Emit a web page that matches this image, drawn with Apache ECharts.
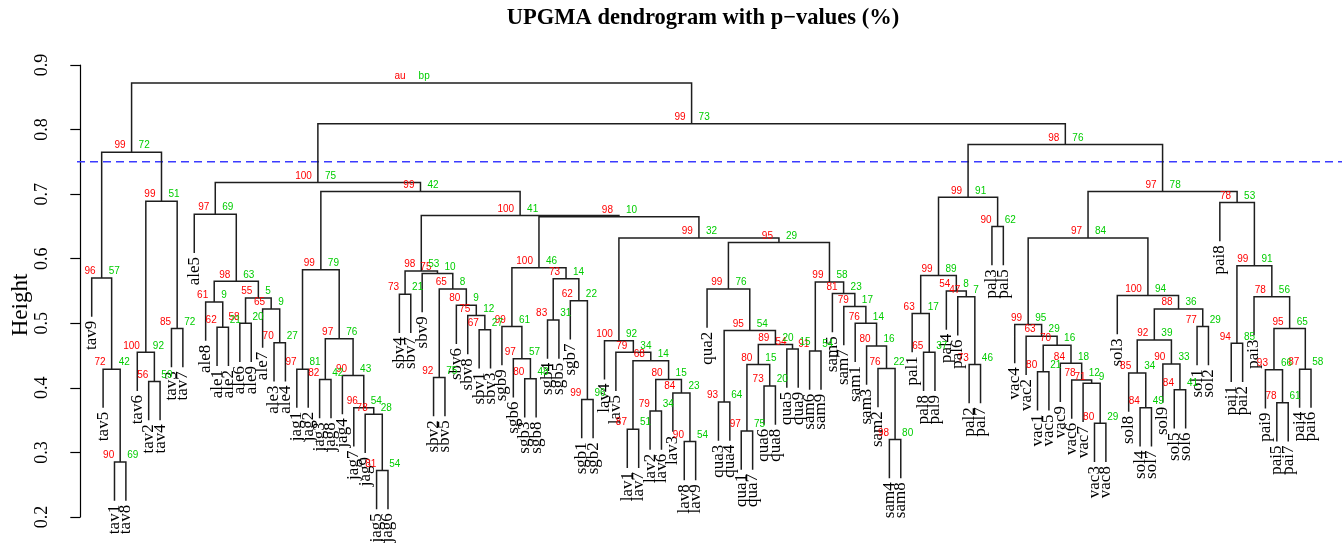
<!DOCTYPE html>
<html>
<head>
<meta charset="utf-8">
<title>UPGMA dendrogram with p-values</title>
<script src="https://cdn.jsdelivr.net/npm/echarts@6/dist/echarts.min.js"></script>
<style>
  html, body { margin: 0; padding: 0; background: #fff; }
  #chart { width: 1342px; height: 547px; }
</style>
</head>
<body>
<div id="chart"></div>
<script>
// Leaves in dendrogram order (left to right)
const leafLabels = [
  'tav9','tav5','tav1','tav8','tav6','tav2','tav4','tav3','tav7',
  'ale5','ale8','ale1','ale2','ale6','ale9','ale7','ale3','ale4',
  'jag1','jag2','jag3','jag8','jag4','jag7','jag9','jag5','jag6',
  'sbv4','sbv7','sbv9','sbv2','sbv5','sbv6','sbv8','sbv1','sbv3',
  'sgb9','sgb6','sgb3','sgb8','sgb4','sgb5','sgb7','sgb1','sgb2',
  'lav4','lav5','lav1','lav7','lav2','lav6','lav3','lav8','lav9',
  'qua2','qua3','qua4','qua1','qua7','qua6','qua8','qua5','qua9',
  'sam6','sam9','sam5','sam7','sam1','sam3','sam2','sam4','sam8',
  'pal1','pal8','pal9','pal4','pal6','pal2','pal7','pal3','pal5',
  'vac4','vac2','vac1','vac5','vac9','vac6','vac7','vac3','vac8',
  'sol3','sol8','sol4','sol7','sol9','sol5','sol6','sol1','sol2',
  'pai8','pai1','pai2','pai3','pai9','pai5','pai7','pai4','pai6'
];

// Merge steps: [left, right, height]; a string is a leaf, a number is an earlier merge
const merges = [
  ['tav1','tav8',0.285], ['tav5',0,0.429], ['tav9',1,0.570], ['tav2','tav4',0.410],
  ['tav6',3,0.455], ['tav3','tav7',0.492], [4,5,0.689], [2,6,0.765],
  ['ale1','ale2',0.494], ['ale8',8,0.533], ['ale6','ale9',0.500], ['ale3','ale4',0.470],
  ['ale7',11,0.522], [10,12,0.539], [9,13,0.565], ['ale5',14,0.669],
  ['jag1','jag2',0.429], ['jag3','jag8',0.413], ['jag5','jag6',0.272], ['jag9',18,0.359],
  ['jag7',19,0.369], ['jag4',20,0.419], [17,21,0.476], [16,22,0.583],
  ['sbv4','sbv7',0.545], ['sbv2','sbv5',0.416], ['sbv1','sbv3',0.490], ['sbv8',26,0.512],
  ['sbv6',27,0.528], [25,28,0.553], ['sbv9',29,0.577], [24,30,0.581],
  ['sgb3','sgb8',0.414], ['sgb6',32,0.445], ['sgb9',33,0.495], ['sgb4','sgb5',0.505],
  ['sgb1','sgb2',0.382], ['sgb7',36,0.535], [35,37,0.569], [34,38,0.586],
  ['lav1','lav7',0.336], ['lav2','lav6',0.364], ['lav8','lav9',0.317], ['lav3',42,0.392],
  [41,43,0.413], [40,44,0.442], ['lav5',45,0.455], ['lav4',46,0.473],
  ['qua3','qua4',0.378], ['qua1','qua7',0.333], ['qua6','qua8',0.403], [49,50,0.436],
  ['qua5','qua9',0.460], [51,52,0.467], [48,53,0.489], ['qua2',54,0.553],
  ['sam6','sam9',0.457], ['sam4','sam8',0.320], ['sam2',57,0.430], ['sam3',58,0.465],
  ['sam1',59,0.500], ['sam7',60,0.526], ['sam5',61,0.546], [56,62,0.564],
  [55,63,0.625], [47,64,0.632], [39,65,0.665], [31,66,0.667], [23,67,0.704], [15,68,0.718],
  ['pal8','pal9',0.455], ['pal1',70,0.515], ['pal2','pal7',0.436], ['pal6',72,0.541],
  ['pal4',73,0.550], [71,74,0.574], ['pal3','pal5',0.650], [75,76,0.695],
  ['vac1','vac5',0.425], ['vac3','vac8',0.345], ['vac7',79,0.407], ['vac6',80,0.412],
  ['vac9',81,0.438], [78,82,0.466], ['vac2',83,0.480], ['vac4',84,0.498],
  ['sol4','sol7',0.369], ['sol8',86,0.423], ['sol5','sol6',0.397], ['sol9',88,0.437],
  [87,89,0.474], ['sol1','sol2',0.495], [90,91,0.522], ['sol3',92,0.543], [85,93,0.632],
  ['pai1','pai2',0.469], ['pai5','pai7',0.377], ['pai9',96,0.428], ['pai4','pai6',0.429],
  [97,98,0.492], ['pai3',99,0.541], [95,100,0.589], ['pai8',101,0.687], [94,102,0.704],
  [77,103,0.777], [69,104,0.809], [7,105,0.872]
];

// Approximately unbiased (au) and bootstrap probability (bp) values, %, one per merge
const auValues = [
  90,72,96,56,100,85,99,99,
  62,61,58,70,65,55,98,97,
  97,82,81,78,96,90,97,99,
  73,92,67,75,80,65,75,98,
  80,97,99,83,99,62,73,100,
  87,79,90,84,80,68,79,100,
  93,97,73,80,54,89,95,99,
  91,98,76,80,76,79,81,99,
  95,99,98,100,99,100,
  65,63,73,47,54,99,90,99,
  80,80,71,78,84,70,63,99,
  84,85,84,90,92,77,88,100,97,
  94,78,93,87,95,78,99,78,97,
  98,99,null
];
const bpValues = [
  69,42,57,59,92,72,51,72,
  21,9,20,27,9,5,63,69,
  81,42,54,28,54,43,76,79,
  21,75,27,12,9,8,10,53,
  48,57,61,31,96,22,14,46,
  51,34,54,23,15,14,34,92,
  64,75,20,15,15,20,54,76,
  54,80,22,16,14,17,23,58,
  29,32,10,41,42,75,
  37,17,46,7,8,89,62,91,
  21,29,9,12,18,16,29,95,
  49,34,41,33,39,29,36,94,84,
  85,61,66,58,65,56,91,53,78,
  76,73,null
];

const yTicks = [0.2, 0.3, 0.4, 0.5, 0.6, 0.7, 0.8, 0.9];
const cutHeight = 0.75;

// ---- layout of the tree from the merge table ----
const leafPos = {};
leafLabels.forEach((name, i) => { leafPos[name] = i + 1; });
const allHeights = merges.map(m => m[2]);
const hang = 0.1 * (Math.max(...allHeights) - Math.min(...allHeights));

const nodeX = [];
const branchData = [];   // [xLeft, yLeftEnd, xRight, yRightEnd, height]
const leafData = [];     // [x, yBottom]
const leafNames = [];
const nodeData = [];     // [xCenter, height]

merges.forEach((m, i) => {
  const h = m[2];
  const ends = [m[0], m[1]].map(c => {
    if (typeof c === 'string') {
      leafData.push([leafPos[c], h - hang]);
      leafNames.push(c);
      return [leafPos[c], h - hang];
    }
    return [nodeX[c], merges[c][2]];
  });
  nodeX[i] = (ends[0][0] + ends[1][0]) / 2;
  branchData.push([ends[0][0], ends[0][1], ends[1][0], ends[1][1], h]);
  nodeData.push([nodeX[i], h]);
});

const xMin = -0.29, xMax = 110.72;
const serif = '"Liberation Serif", "DejaVu Serif", serif';
const sans = '"Liberation Sans", Arial, sans-serif';

const chart = echarts.init(document.getElementById('chart'), null, { renderer: 'canvas' });

chart.setOption({
  animation: false,
  backgroundColor: '#ffffff',
  title: {
    text: 'UPGMA dendrogram with p\u2212values (%)',
    left: 698,
    textAlign: 'center',
    top: 2,
    textStyle: { fontFamily: serif, fontSize: 22.5, fontWeight: 'bold', color: '#000' }
  },
  grid: { left: 77, right: 0, top: 65, bottom: 30, containLabel: false, outerBoundsMode: 'none' },
  xAxis: { type: 'value', min: xMin, max: xMax, show: false },
  yAxis: {
    type: 'value', min: 0.2, max: 0.9, interval: 0.1,
    axisLine: { show: true, lineStyle: { color: '#000', width: 1.2 } },
    axisTick: { show: true, inside: false, length: 10, lineStyle: { color: '#000', width: 1.2 } },
    axisLabel: {
      rotate: 90, margin: 26, color: '#000', fontFamily: serif, fontSize: 18,
      formatter: v => {
        const t = yTicks.find(k => Math.abs(k - v) < 1e-6);
        return t === undefined ? '' : t.toFixed(1);
      }
    },
    splitLine: { show: false },
    name: 'Height', nameLocation: 'middle', nameRotate: 90, nameGap: 45,
    nameMoveOverlap: false,
    nameTextStyle: { fontFamily: serif, fontSize: 23, color: '#000', padding: [0, 28, 0, 0] }
  },
  series: [
    {
      type: 'line',
      data: [[xMin, cutHeight], [xMax, cutHeight]],
      symbol: 'none', silent: true, z: 1,
      lineStyle: { color: '#3b3bff', width: 1.5, type: [8, 5] }
    },
    {
      type: 'custom', clip: false, silent: true, z: 2,
      data: branchData,
      encode: { x: [0, 2], y: [1, 3, 4] },
      renderItem: (params, api) => {
        const p1 = api.coord([api.value(0), api.value(1)]);
        const p2 = api.coord([api.value(0), api.value(4)]);
        const p3 = api.coord([api.value(2), api.value(4)]);
        const p4 = api.coord([api.value(2), api.value(3)]);
        return {
          type: 'polyline',
          shape: { points: [p1, p2, p3, p4] },
          style: { stroke: '#1e1e1e', lineWidth: 1.5, fill: null }
        };
      }
    },
    {
      type: 'custom', clip: false, silent: true, z: 3,
      data: leafData,
      encode: { x: 0, y: 1 },
      renderItem: (params, api) => {
        const p = api.coord([api.value(0), api.value(1)]);
        return {
          type: 'text', x: p[0], y: p[1] + 4, rotation: Math.PI / 2,
          style: {
            text: leafNames[params.dataIndex], fill: '#000',
            fontFamily: serif, fontSize: 17,
            align: 'right', verticalAlign: 'middle'
          }
        };
      }
    },
    {
      type: 'custom', clip: false, silent: true, z: 4,
      data: nodeData,
      encode: { x: 0, y: 1 },
      renderItem: (params, api) => {
        const p = api.coord([api.value(0), api.value(1)]);
        const v = auValues[params.dataIndex];
        return {
          type: 'text', x: p[0] - 6, y: p[1] - 6.5,
          style: {
            text: v === null ? 'au' : String(v), fill: '#ff0000',
            fontFamily: sans, fontSize: 10, align: 'right', verticalAlign: 'middle'
          }
        };
      }
    },
    {
      type: 'custom', clip: false, silent: true, z: 5,
      data: nodeData,
      encode: { x: 0, y: 1 },
      renderItem: (params, api) => {
        const p = api.coord([api.value(0), api.value(1)]);
        const v = bpValues[params.dataIndex];
        return {
          type: 'text', x: p[0] + 7, y: p[1] - 6.5,
          style: {
            text: v === null ? 'bp' : String(v), fill: '#00cd00',
            fontFamily: sans, fontSize: 10, align: 'left', verticalAlign: 'middle'
          }
        };
      }
    }
  ]
});
</script>
</body>
</html>
